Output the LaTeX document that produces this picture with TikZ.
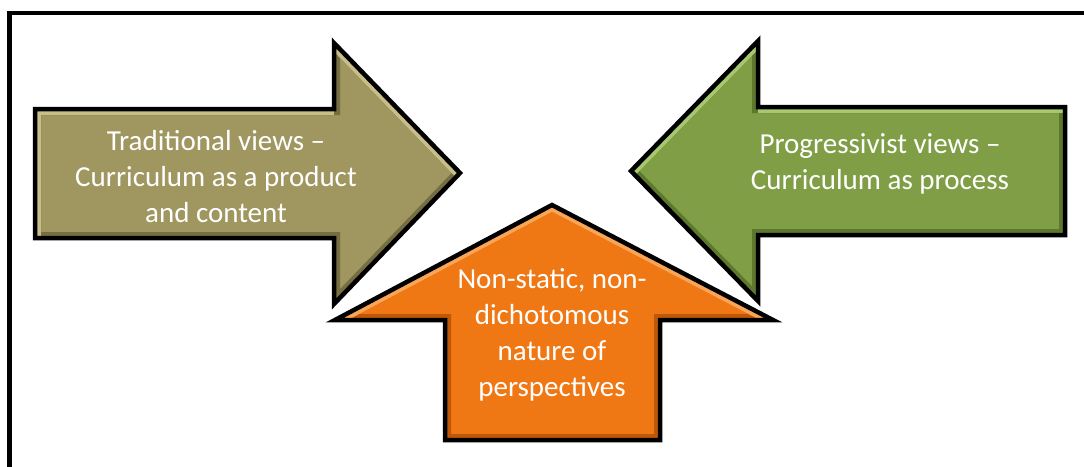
\documentclass[tikz,border=0pt]{standalone}
\usepackage{fontspec}
\setmainfont{Carlito}
\definecolor{olivefill}{RGB}{160,150,96}
\definecolor{olivelight}{RGB}{200,190,138}
\definecolor{olivedark}{RGB}{118,110,66}
\definecolor{greenfill}{RGB}{128,158,69}
\definecolor{greenlight}{RGB}{168,200,112}
\definecolor{greendark}{RGB}{92,120,44}
\definecolor{orangefill}{RGB}{240,120,20}
\definecolor{orangelight}{RGB}{250,165,85}
\definecolor{orangedark}{RGB}{190,88,8}
\tikzset{
  outline/.style={draw=black, line width=4.5pt, line join=miter},
  bevel/.style={line width=12pt, line join=miter},
  label/.style={text=white, align=center, font=\fontsize{29}{36}\selectfont, inner sep=0pt}
}
% draws a bevelled block arrow: #1 path, #2 fill, #3 light edge, #4 dark edge
\newcommand{\blockarrow}[4]{%
  \begin{scope}
    \clip #1;
    \fill[#2] #1;
    \draw[bevel, #4] #1;
  \end{scope}
}
\begin{document}
\begin{tikzpicture}[x=1pt, y=-1pt]
\useasboundingbox (0,0) rectangle (1084,466);
\fill[white] (0,0) rectangle (1084,466);

% frame
\draw[line width=4.5pt, line cap=rect] (9.5,480) -- (9.5,13) -- (1100,13);

% left arrow: traditional views
\def\leftpath{(35,109) -- (334,109) -- (334,43) -- (460,173) -- (334,304) -- (334,238) -- (35,238) -- cycle}
\blockarrow{\leftpath}{olivefill}{olivelight}{olivedark}
\begin{scope}
  \clip \leftpath;
  \draw[bevel, olivelight] (35,238) -- (35,109) -- (334,109);
  \draw[bevel, olivelight] (334,43) -- (460,173);
\end{scope}
\draw[outline] \leftpath;

% right arrow: progressivist views
\def\rightpath{(1065,107) -- (758,107) -- (758,41) -- (631,171) -- (758,301) -- (758,235) -- (1065,235) -- cycle}
\blockarrow{\rightpath}{greenfill}{greenlight}{greendark}
\begin{scope}
  \clip \rightpath;
  \draw[bevel, greenlight] (1065,107) -- (758,107);
  \draw[bevel, greenlight] (758,41) -- (631,171);
\end{scope}
\draw[outline] \rightpath;

% bottom arrow: non-static perspectives
\def\uppath{(552,205) -- (773,320) -- (660,320) -- (660,440) -- (445,440) -- (445,320) -- (335,320) -- cycle}
\blockarrow{\uppath}{orangefill}{orangelight}{orangedark}
\begin{scope}
  \clip \uppath;
  \draw[bevel, orangelight] (335,320) -- (552,205) -- (773,320);
\end{scope}
\draw[outline] \uppath;

% texts
\node[label] (trad) at (216,177) {Traditional views –\\Curriculum as a product\\and content};
\node[label] (prog) at (880,164) {Progressivist views –\\Curriculum as process};
\node[label] (nons) at (552,335) {Non-static, non-\\dichotomous\\nature of\\perspectives};
\end{tikzpicture}
\end{document}
